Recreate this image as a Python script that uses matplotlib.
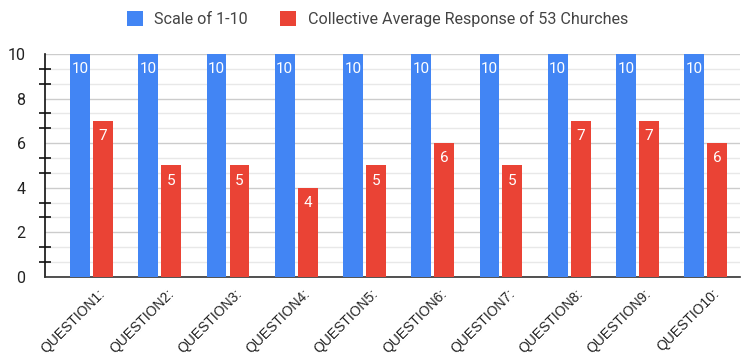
import numpy as np
import matplotlib.pyplot as plt
from matplotlib.ticker import MultipleLocator

questions = ['QUESTION1:', 'QUESTION2:', 'QUESTION3:', 'QUESTION4:', 'QUESTION5:',
             'QUESTION6:', 'QUESTION7:', 'QUESTION8:', 'QUESTION9:', 'QUESTIO10:']
scale = [10, 10, 10, 10, 10, 10, 10, 10, 10, 10]
avg_resp = [7, 5, 5, 4, 5, 6, 5, 7, 7, 6]

blue = '#4285F4'
red = '#EA4335'

plt.rcParams['font.family'] = ['Roboto', 'DejaVu Sans']

fig = plt.figure(figsize=(7.43, 3.62), dpi=100)
ax = fig.add_axes([0.0606, 0.235, 0.936, 0.616])

x = np.arange(len(questions))
w = 0.29
off = 0.168
b1 = ax.bar(x - off, scale, w, color=blue, label='Scale of 1-10', zorder=3)
b2 = ax.bar(x + off, avg_resp, w, color=red,
            label='Collective Average Response of 53 Churches', zorder=3)

for bars, vals in ((b1, scale), (b2, avg_resp)):
    for r, v in zip(bars, vals):
        ax.annotate(str(v), (r.get_x() + r.get_width() / 2, v),
                    xytext=(0, -6), textcoords='offset points',
                    ha='center', va='top', color='white', fontsize=11, zorder=4)

ax.set_xlim(-0.68, 9.51)
ax.set_ylim(0, 10)
ax.yaxis.set_major_locator(MultipleLocator(2))
ax.yaxis.set_minor_locator(MultipleLocator(2 / 3))
ax.grid(axis='y', which='major', color='#cccccc', lw=1, zorder=0)
ax.grid(axis='y', which='minor', color='#e8e8e8', lw=1, zorder=0)
ax.tick_params(axis='y', which='major', length=0, labelsize=11.5, pad=14, labelcolor='#222222')
ax.tick_params(axis='y', which='minor', length=9, width=1.2, direction='inout', color='#111111')

ax.set_xticks(x + 0.1)
ax.set_xticklabels(questions, rotation=45, ha='right', rotation_mode='anchor',
                   fontsize=10, family=['Liberation Sans', 'DejaVu Sans'], color='#222222')
ax.tick_params(axis='x', length=0, pad=7)

for s in ('top', 'right'):
    ax.spines[s].set_visible(False)
ax.spines['left'].set_color('#111111')
ax.spines['bottom'].set_color('#333333')
ax.spines['left'].set_linewidth(1.2)
ax.spines['bottom'].set_linewidth(1.2)

leg = fig.legend(handles=[b1, b2], loc='upper center', bbox_to_anchor=(0.508, 1.01),
                 ncol=2, frameon=False, fontsize=11.6, handlelength=1.0, handleheight=1.0,
                 columnspacing=2.0, handletextpad=0.7)
for t in leg.get_texts():
    t.set_color('#444444')

fig.savefig('out.png', dpi=100)
